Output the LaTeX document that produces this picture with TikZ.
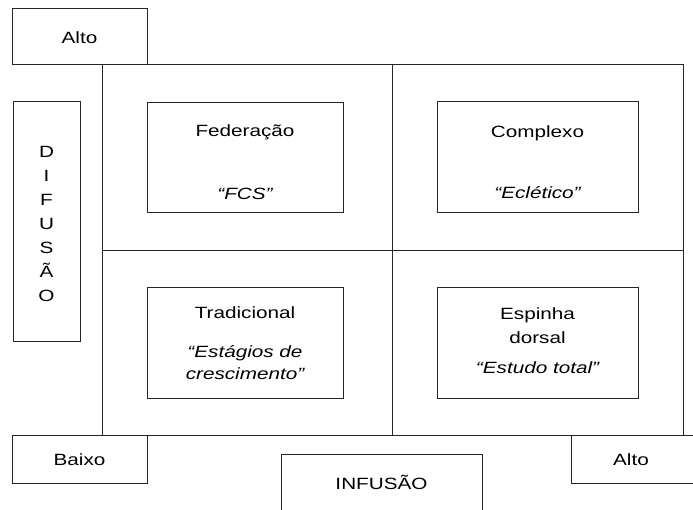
\documentclass[tikz,border=0pt]{standalone}
\usepackage{fontspec}
\setmainfont{Liberation Sans}[FakeStretch=1.27]
\begin{document}
\begin{tikzpicture}[x=1pt,y=-1pt,
  ln/.style={draw=black!85,line width=1pt},
  bx/.style={ln,fill=white},
  txt/.style={anchor=base,inner sep=0pt,font=\fontsize{16.3}{22}\selectfont},
  itx/.style={txt,font=\fontsize{16.3}{22}\selectfont\itshape}]
\useasboundingbox (0,0) rectangle (693,509);
% grid
\draw[ln] (102,64) rectangle (683,435);
\coordinate (mt) at (392,64);
\coordinate (mb) at (392,435);
\coordinate (ml) at (102,250);
\coordinate (mr) at (683,250);
\draw[ln] (mt) -- (mb);
\draw[ln] (ml) -- (mr);
% corner / axis boxes
\draw[bx] (12,8) rectangle (147,64);
\node[txt] (altoT) at (79.5,43) {Alto};
\draw[bx] (13,101) rectangle (80,341);
\foreach \l/\yy [count=\i] in {D/157,I/181,F/205,U/229,S/253,Ã/277,O/301}
  \node[txt] (dif\i) at (46.5,\yy) {\l};
\draw[bx] (12,435) rectangle (147,483);
\node[txt] (baixo) at (79.5,465) {Baixo};
\draw[bx] (281,454) rectangle (482,512);
\node[txt] (infusao) at (381.5,489) {INFUSÃO};
\draw[bx] (571,435) rectangle (694,483);
\node[txt] (altoB) at (631,465) {Alto};
% quadrant boxes
\draw[bx] (147,102) rectangle (343,212);
\node[txt] (fed) at (245,136) {Federação};
\node[itx] (fcs) at (245,199) {“FCS”};
\draw[bx] (437,101) rectangle (638,212);
\node[txt] (comp) at (537.5,137) {Complexo};
\node[itx] (ecl) at (537.5,198) {“Eclético”};
\draw[bx] (147,287) rectangle (343,398);
\node[txt] (trad) at (245,318) {Tradicional};
\node[itx] (est1) at (245,357) {“Estágios de};
\node[itx] (est2) at (245,379) {crescimento”};
\draw[bx] (437,287) rectangle (638,398);
\node[txt] (esp1) at (537.5,319) {Espinha};
\node[txt] (esp2) at (537.5,343) {dorsal};
\node[itx] (tot) at (537.5,373) {“Estudo total”};
\end{tikzpicture}
\end{document}
